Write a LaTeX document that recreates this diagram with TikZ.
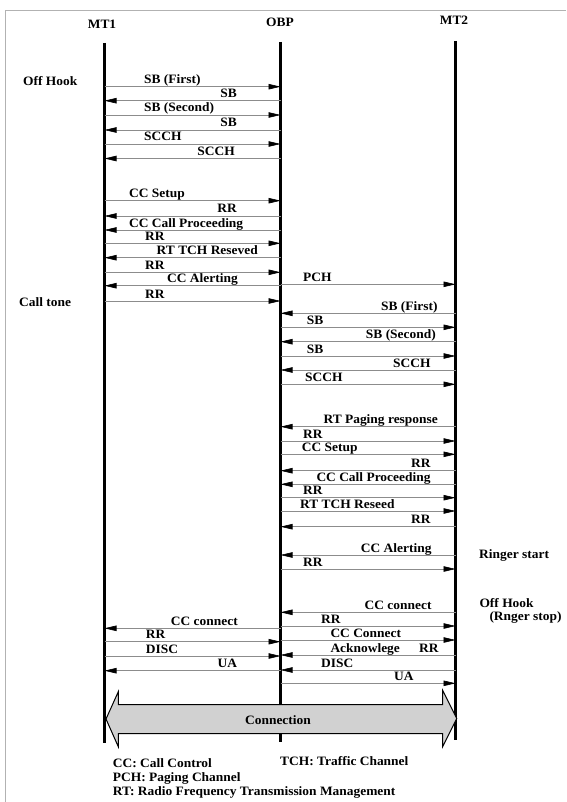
\documentclass[tikz,border=0pt]{standalone}
\usepackage{fontspec}
\setmainfont{Liberation Serif}[FakeStretch=1.05]
\usetikzlibrary{arrows.meta}
\tikzset{
  lbl/.style={inner sep=0pt,font=\fontsize{12.8}{14}\selectfont\bfseries},
  msg/.style={draw=black!45,line width=0.6pt,-{Triangle[length=12pt,width=5.5pt,color=black]}},
  life/.style={line width=2.3pt,black},
  frame/.style={draw=black!30,line width=1pt},
  bigarrow/.style={draw=black,line width=1pt,fill=black!18}
}
\newcommand\Msg[6]{%
  \draw[msg] (#1|-0,#3) -- (#2|-0,#3);
  \node[lbl,anchor=base #4] at (#5,#3-3) {#6};}
\begin{document}
\begin{tikzpicture}[x=1pt,y=-1pt]
\useasboundingbox (0,0) rectangle (566,802);
% frame
\draw[frame] (5,802) -- (5,10.7) -- (566,10.7);
% headers
\node[lbl] (MT1) at (102,24) {MT1};
\node[lbl] (OBP) at (280,22) {OBP};
\node[lbl] (MT2) at (454,20) {MT2};
% lifelines
\coordinate (l1) at (104.5,43);
\coordinate (l1b) at (104.5,743);
\coordinate (l2) at (280.5,42);
\coordinate (l2b) at (280.5,742);
\coordinate (l3) at (455.5,41);
\coordinate (l3b) at (455.5,740);
\draw[life] (l1) -- (l1b);
\draw[life] (l2) -- (l2b);
\draw[life] (l3) -- (l3b);
% MT1 <-> OBP
\Msg{l1}{l2}{86.7}{west}{144}{SB (First)}
\Msg{l2}{l1}{100.7}{east}{237}{SB}
\Msg{l1}{l2}{115}{west}{144}{SB (Second)}
\Msg{l2}{l1}{130}{east}{237}{SB}
\Msg{l1}{l2}{144}{west}{144}{SCCH}
\Msg{l2}{l1}{158.5}{east}{235}{SCCH}
\Msg{l1}{l2}{200.7}{west}{129}{CC Setup}
\Msg{l2}{l1}{216}{east}{237}{RR}
\Msg{l2}{l1}{230}{west}{129}{CC Call Proceeding}
\Msg{l1}{l2}{243.3}{west}{145}{RR}
\Msg{l2}{l1}{257.7}{east}{258}{RT TCH Reseved}
\Msg{l1}{l2}{272.3}{west}{145}{RR}
\Msg{l2}{l1}{285.7}{west}{167}{CC Alerting}
\Msg{l1}{l2}{301}{west}{145}{RR}
% OBP <-> MT2
\Msg{l2}{l3}{284.3}{west}{303}{PCH}
\Msg{l3}{l2}{313.3}{east}{437.7}{SB (First)}
\Msg{l2}{l3}{327.3}{west}{306.7}{SB}
\Msg{l3}{l2}{341.7}{east}{436}{SB (Second)}
\Msg{l2}{l3}{356}{west}{306.7}{SB}
\Msg{l3}{l2}{370}{east}{430.7}{SCCH}
\Msg{l2}{l3}{384.3}{west}{305}{SCCH}
\Msg{l3}{l2}{426.7}{east}{438}{RT Paging response}
\Msg{l2}{l3}{441}{west}{303}{RR}
\Msg{l2}{l3}{454.3}{west}{301.7}{CC Setup}
\Msg{l3}{l2}{470.7}{east}{430.7}{RR}
\Msg{l3}{l2}{484.3}{east}{430.7}{CC Call Proceeding}
\Msg{l2}{l3}{497.7}{west}{303}{RR}
\Msg{l2}{l3}{511}{west}{300}{RT TCH Reseed}
\Msg{l3}{l2}{526.7}{east}{430.7}{RR}
\Msg{l3}{l2}{555}{east}{431.7}{CC Alerting}
\Msg{l2}{l3}{569}{west}{303}{RR}
\Msg{l3}{l2}{612.3}{east}{431.7}{CC connect}
\Msg{l2}{l3}{626}{west}{321}{RR}
\Msg{l2}{l3}{640}{west}{330.3}{CC Connect}
\Msg{l3}{l2}{655}{west}{330.3}{Acknowlege}
\node[lbl,anchor=base east] (rrack) at (438.7,652) {RR};
\Msg{l3}{l2}{670}{west}{321}{DISC}
\Msg{l2}{l3}{683.3}{east}{413.7}{UA}
% MT1 <-> OBP bottom
\Msg{l2}{l1}{628.3}{east}{238}{CC connect}
\Msg{l1}{l2}{641.7}{west}{145.7}{RR}
\Msg{l1}{l2}{656}{west}{145.7}{DISC}
\Msg{l2}{l1}{670.7}{east}{237.3}{UA}
% side labels
\node[lbl,anchor=base west] (offhook1) at (23,85.3) {Off Hook};
\node[lbl,anchor=base west] (calltone) at (19,306) {Call tone};
\node[lbl,anchor=base west] (ringer) at (479,558.3) {Ringer start};
\node[lbl,anchor=north west,align=left,font=\fontsize{12.8}{13}\selectfont\bfseries]
  (offhook2) at (479.3,598) {Off Hook\\\hspace*{10pt}(Rnger stop)};
% connection arrow
\draw[bigarrow] (106,719) -- (118.3,691.7) -- (118.3,704.5) -- (442.7,704.5)
  -- (442.7,690.5) -- (456.7,718.5) -- (442.7,746.5) -- (442.7,733.5)
  -- (118.3,733.5) -- (118.3,746.7) -- cycle;
\node[lbl] (conn) at (278,720) {Connection};
% legend
\node[lbl,anchor=base west] (lg1) at (112.7,767) {CC: Call Control};
\node[lbl,anchor=base west] (lg2) at (112.7,781) {PCH: Paging Channel};
\node[lbl,anchor=base west] (lg3) at (112.7,795.3) {RT: Radio Frequency Transmission Management};
\node[lbl,anchor=base west] (lg4) at (280,765.3) {TCH: Traffic Channel};
\end{tikzpicture}
\end{document}
